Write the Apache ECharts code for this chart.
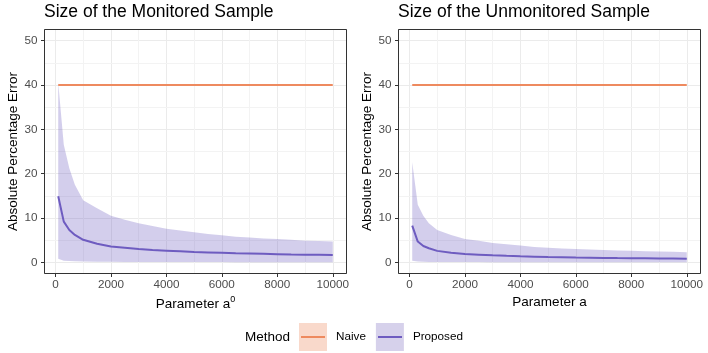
<!DOCTYPE html>
<html>
<head>
<meta charset="utf-8">
<script src="https://cdn.jsdelivr.net/npm/echarts@6/dist/echarts.min.js"></script>
<style>
  html, body { margin:0; padding:0; background:#fff; }
  #main { width:708px; height:353px; }
</style>
</head>
<body>
<div id="main"></div>
<script>
// values
var aValues = [100, 300, 500, 700, 1000, 1500, 2000, 2500, 3000, 3500, 4000, 4500, 5000, 5500, 6000, 6500, 7000, 7500, 8000, 8500, 9000, 9500, 10000];

var monNaive = [40, 40, 40, 40, 40, 40, 40, 40, 40, 40, 40, 40, 40, 40, 40, 40, 40, 40, 40, 40, 40, 40, 40];
var monMean  = [14.9, 9.2, 7.3, 6.2, 5.1, 4.2, 3.6, 3.3, 3.0, 2.8, 2.65, 2.5, 2.35, 2.25, 2.15, 2.05, 2.0, 1.93, 1.86, 1.8, 1.75, 1.7, 1.65];
var monUpper = [40.5, 26.5, 21.2, 17.5, 14.0, 12.2, 10.5, 9.6, 8.8, 8.2, 7.6, 7.2, 6.8, 6.4, 6.1, 5.8, 5.6, 5.4, 5.3, 5.1, 4.9, 4.8, 4.7];
var monLower = [0.8, 0.4, 0.3, 0.25, 0.2, 0.15, 0.15, 0.1, 0.1, 0.1, 0.1, 0.08, 0.08, 0.07, 0.07, 0.06, 0.06, 0.05, 0.05, 0.05, 0.05, 0.05, 0.05];

var unmNaive = [40, 40, 40, 40, 40, 40, 40, 40, 40, 40, 40, 40, 40, 40, 40, 40, 40, 40, 40, 40, 40, 40, 40];
var unmMean  = [8.3, 4.7, 3.7, 3.2, 2.6, 2.2, 1.9, 1.75, 1.6, 1.48, 1.38, 1.3, 1.22, 1.16, 1.1, 1.06, 1.02, 0.98, 0.95, 0.92, 0.89, 0.87, 0.85];
var unmUpper = [22.6, 13.0, 10.5, 8.8, 7.3, 6.2, 5.3, 4.9, 4.4, 4.1, 3.8, 3.5, 3.3, 3.15, 3.0, 2.9, 2.8, 2.7, 2.6, 2.5, 2.45, 2.4, 2.3];
var unmLower = [0.4, 0.2, 0.15, 0.1, 0.1, 0.08, 0.08, 0.07, 0.06, 0.06, 0.05, 0.05, 0.05, 0.05, 0.05, 0.05, 0.05, 0.05, 0.05, 0.05, 0.05, 0.05, 0.05];

// minor grid positions
var xMinor = [1000, 3000, 5000, 7000, 9000];
var yMinor = [5, 15, 25, 35, 45];

var chart = echarts.init(document.getElementById('main'));

var FONT = '"Liberation Sans", Arial, sans-serif';
var naiveColor = '#EE8A5F';
var propColor = '#6E5CC0';

function pairs(xs, ys) {
  return xs.map(function (x, i) { return [x, ys[i]]; });
}
function triples(xs, lo, up) {
  return xs.map(function (x, i) { return [x, lo[i], up[i]]; });
}
function minorLines() {
  return yMinor.map(function (v) { return { yAxis: v }; })
    .concat(xMinor.map(function (v) { return { xAxis: v }; }));
}

// ribbon drawn as one polygon through the axis scales
function ribbonRender(data, api) {
  var top = [], bottom = [];
  for (var i = 0; i < data.length; i++) {
    top.push(api.coord([data[i][0], data[i][2]]));
    bottom.unshift(api.coord([data[i][0], data[i][1]]));
  }
  return {
    type: 'polygon',
    shape: { points: top.concat(bottom) },
    style: { fill: 'rgba(110,92,192,0.3)' },
    silent: true
  };
}

function xAxisFor(idx, name) {
  return {
    type: 'value', gridIndex: idx, min: -395, max: 10495, splitNumber: 5,
    name: name, nameLocation: 'middle', nameGap: 20,
    nameTextStyle: { fontFamily: FONT, fontSize: 13.5, color: '#000',
      rich: { sup: { fontSize: 9, verticalAlign: 'top', padding: [0, 0, 8, 0], fontFamily: FONT, color: '#000' } } },
    axisLine: { show: false, onZero: false },
    axisTick: { show: true, length: 3.5, lineStyle: { color: '#333' } },
    axisLabel: { margin: 5, fontFamily: FONT, fontSize: 11.7, color: '#4D4D4D',
      showMinLabel: false, showMaxLabel: false,
      formatter: function (v) { return String(v); } },
    splitLine: { show: true, lineStyle: { color: '#EBEBEB', width: 1 } }
  };
}
function yAxisFor(idx) {
  return {
    type: 'value', gridIndex: idx, min: -2.5, max: 52.5, splitNumber: 5,
    name: 'Absolute Percentage Error', nameLocation: 'middle', nameGap: 24,
    nameTextStyle: { fontFamily: FONT, fontSize: 13.5, color: '#000' },
    axisLine: { show: false, onZero: false },
    axisTick: { show: true, length: 3.5, lineStyle: { color: '#333' } },
    axisLabel: { margin: 7, fontFamily: FONT, fontSize: 11.7, color: '#4D4D4D',
      showMinLabel: false, showMaxLabel: false },
    splitLine: { show: true, lineStyle: { color: '#EBEBEB', width: 1 } }
  };
}

function panelSeries(idx, naive, mean, upper, lower) {
  var band = triples(aValues, lower, upper);
  return [
    {
      name: 'band' + idx, type: 'custom', xAxisIndex: idx, yAxisIndex: idx,
      data: band, z: 2, silent: true, clip: true,
      encode: { x: 0, y: [1, 2] },
      renderItem: function (params, api) {
        if (params.dataIndex !== 0) return null;
        return ribbonRender(band, api);
      },
      markLine: { silent: true, symbol: 'none', label: { show: false }, z: 1,
        lineStyle: { color: '#F3F3F3', width: 1, type: 'solid' }, data: minorLines() }
    },
    {
      name: 'Naive', type: 'line', xAxisIndex: idx, yAxisIndex: idx,
      data: pairs(aValues, naive), showSymbol: false, z: 3,
      lineStyle: { color: naiveColor, width: 2 }, itemStyle: { color: naiveColor }
    },
    {
      name: 'Proposed', type: 'line', xAxisIndex: idx, yAxisIndex: idx,
      data: pairs(aValues, mean), showSymbol: false, z: 3,
      lineStyle: { color: propColor, width: 2 }, itemStyle: { color: propColor }
    }
  ];
}

var option = {
  animation: false,
  textStyle: { fontFamily: FONT },
  title: [
    { text: 'Size of the Monitored Sample', left: 44, top: 3, padding: 0,
      textStyle: { fontFamily: FONT, fontSize: 17.5, fontWeight: 'normal', color: '#000' } },
    { text: 'Size of the Unmonitored Sample', left: 398, top: 3, padding: 0,
      textStyle: { fontFamily: FONT, fontSize: 17.5, fontWeight: 'normal', color: '#000' } }
  ],
  grid: [
    { left: 44.5, top: 29.5, width: 302, height: 244, show: true, borderColor: '#333', borderWidth: 1, backgroundColor: '#fff', z: 0 },
    { left: 398.5, top: 29.5, width: 302, height: 244, show: true, borderColor: '#333', borderWidth: 1, backgroundColor: '#fff', z: 0 }
  ],
  xAxis: [xAxisFor(0, 'Parameter a{sup|0}'), xAxisFor(1, 'Parameter a')],
  yAxis: [yAxisFor(0), yAxisFor(1)],
  legend: {
    left: 299, top: 323, itemWidth: 28, itemHeight: 28, itemGap: 10,
    padding: 0, selectedMode: false,
    textStyle: { fontFamily: FONT, fontSize: 11.7, color: '#000', padding: [0, 0, 0, 4] },
    data: [
      { name: 'Naive', icon: 'rect', itemStyle: { color: '#F9D9CB', borderWidth: 0 }, lineStyle: { opacity: 0 } },
      { name: 'Proposed', icon: 'rect', itemStyle: { color: '#D6D1EB', borderWidth: 0 }, lineStyle: { opacity: 0 } }
    ]
  },
  graphic: [
    { type: 'text', left: 245, top: 330, style: { text: 'Method', font: '13.5px ' + FONT, fill: '#000' } },
    { type: 'line', shape: { x1: 301, y1: 337, x2: 325, y2: 337 }, style: { stroke: naiveColor, lineWidth: 2 }, z: 100 },
    { type: 'line', shape: { x1: 378, y1: 337, x2: 402, y2: 337 }, style: { stroke: propColor, lineWidth: 2 }, z: 100 },
    // panel borders on top of the plotted marks
    { type: 'rect', shape: { x: 44.5, y: 29.5, width: 302, height: 244 }, style: { fill: null, stroke: '#333', lineWidth: 1 }, z: 50, silent: true },
    { type: 'rect', shape: { x: 398.5, y: 29.5, width: 302, height: 244 }, style: { fill: null, stroke: '#333', lineWidth: 1 }, z: 50, silent: true }
  ],
  series: panelSeries(0, monNaive, monMean, monUpper, monLower)
    .concat(panelSeries(1, unmNaive, unmMean, unmUpper, unmLower))
};

chart.setOption(option);
window.onresize = chart.resize;
</script>
</body>
</html>
